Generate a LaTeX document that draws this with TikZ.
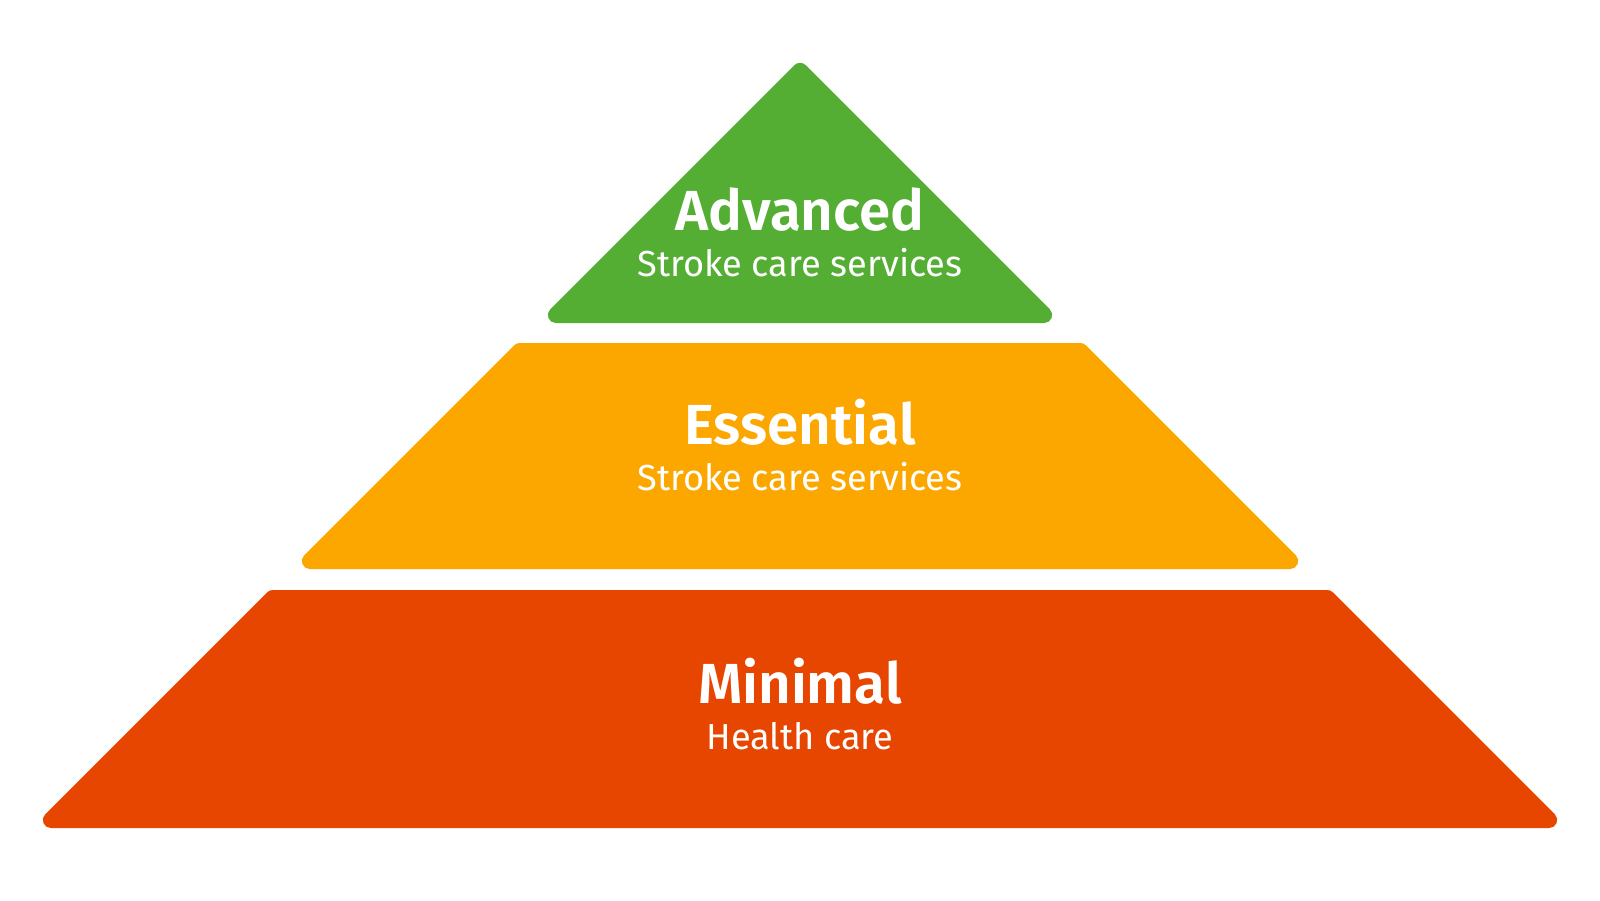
\documentclass[tikz,border=0pt]{standalone}
\usepackage{fontspec}
\setmainfont{Fira Sans}
\IfFontExistsTF{Fira Sans SemiBold}
  {\newfontfamily\titlefont{Fira Sans SemiBold}}
  {\IfFontExistsTF{FiraSans-SemiBold.otf}
     {\newfontfamily\titlefont{FiraSans-SemiBold.otf}}
     {\newcommand\titlefont{\bfseries}}}
\definecolor{cgreen}{RGB}{83,174,51}
\definecolor{corange}{RGB}{252,166,0}
\definecolor{cred}{RGB}{230,70,0}
\tikzset{
  tier/.style={line width=16pt, line join=round},
  ttl/.style={anchor=base, text=white, inner sep=0pt, font=\titlefont\fontsize{56.5}{56.5}\selectfont},
  sub/.style={anchor=base, text=white, inner sep=0pt, font=\fontsize{36.2}{36.2}\selectfont},
}
\begin{document}
\begin{tikzpicture}[x=1pt,y=-1pt]
\useasboundingbox (0,0) rectangle (1600,900);
\fill[white] (0,0) rectangle (1600,900);
% tiers (inset outlines stroked with round joins give 8pt round corners)
\filldraw[tier, cgreen] (800,70.81) -- (1044.19,315) -- (555.81,315) -- cycle;
\filldraw[tier, corange] (519.81,351) -- (1080.19,351) -- (1290.19,561) -- (309.81,561) -- cycle;
\filldraw[tier, cred] (272.81,598) -- (1327.19,598) -- (1549.19,820) -- (50.81,820) -- cycle;
% labels
\node[ttl] (advT) at (800,230) {Advanced};
\node[sub] (advS) at (800,276) {Stroke care services};
\node[ttl] (essT) at (800,444) {Essential};
\node[sub] (essS) at (800,490) {Stroke care services};
\node[ttl] (minT) at (800,703) {Minimal};
\node[sub] (minS) at (800,749) {Health care};
\end{tikzpicture}
\end{document}
